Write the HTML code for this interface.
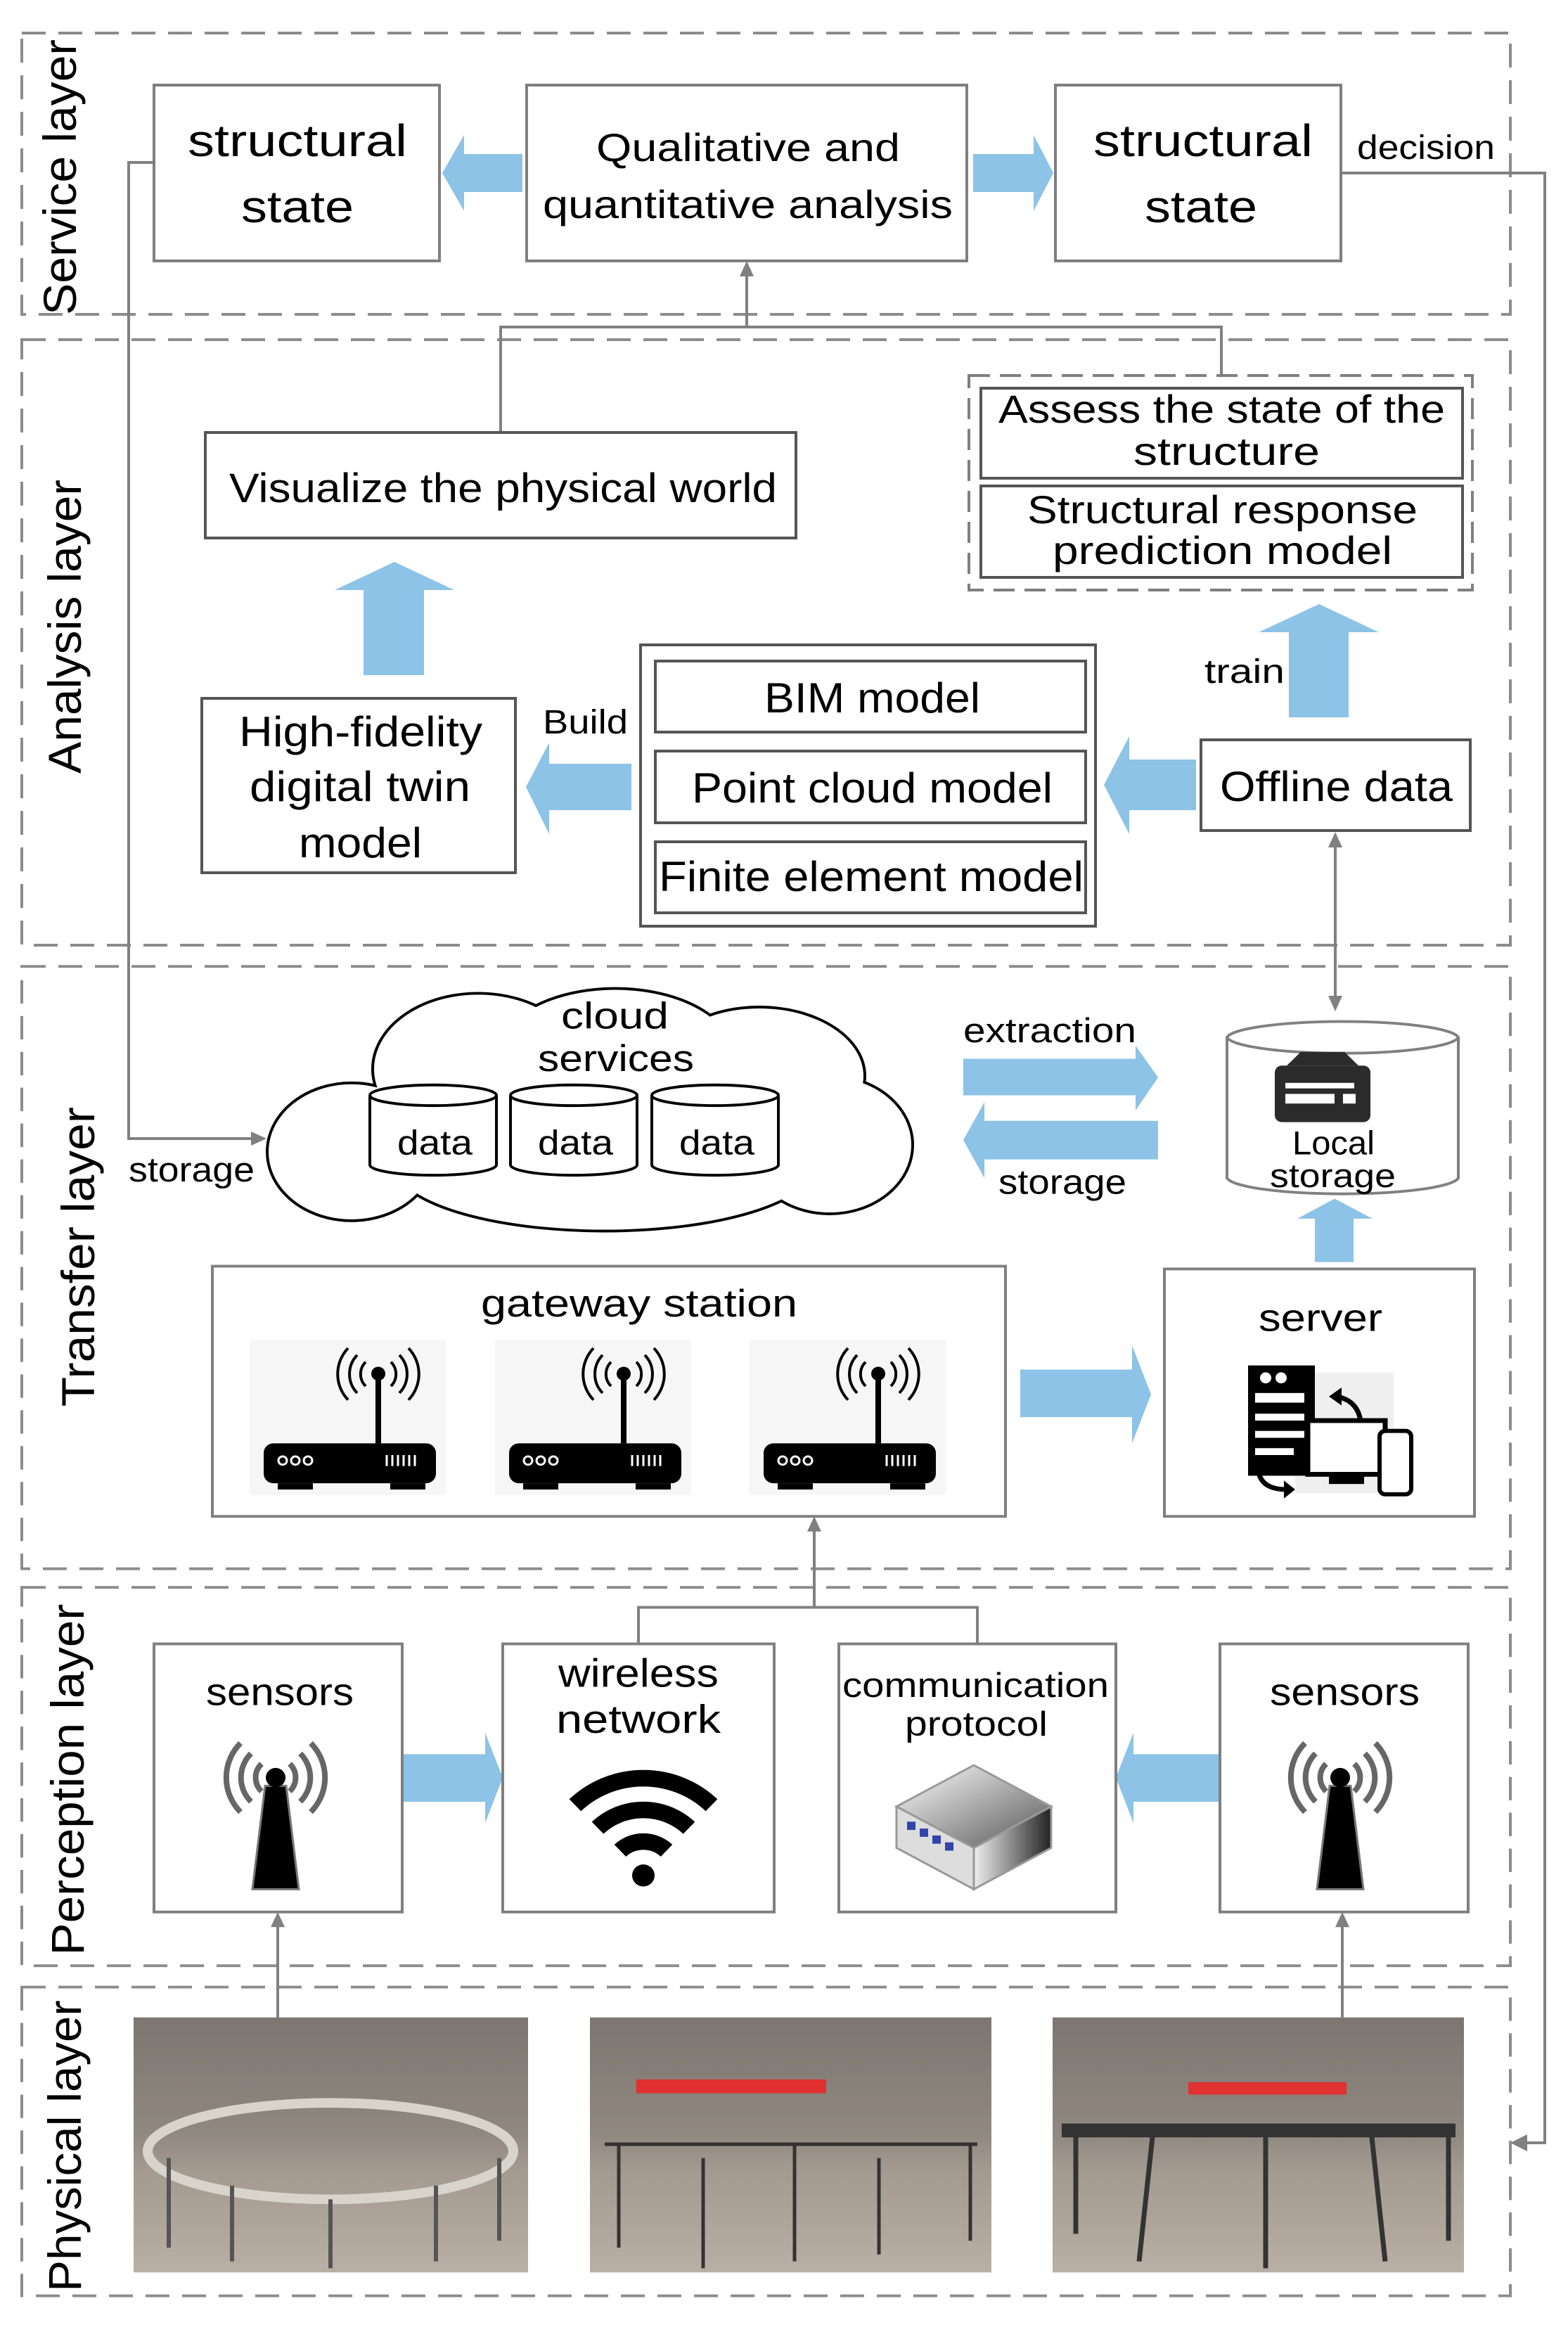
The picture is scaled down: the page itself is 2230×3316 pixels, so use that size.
<!DOCTYPE html>
<html><head><meta charset="utf-8"><style>
html,body{margin:0;padding:0;background:#fff;}
svg{display:block;}
text{font-family:"Liberation Sans",sans-serif;fill:#000;}
</style></head><body>
<svg width="2230" height="3316" viewBox="0 0 2230 3316" xmlns="http://www.w3.org/2000/svg">
<defs>
<linearGradient id="ph1" x1="0" y1="0" x2="0" y2="1"><stop offset="0" stop-color="#7d7670"/><stop offset="0.45" stop-color="#8f8880"/><stop offset="0.6" stop-color="#a39a90"/><stop offset="1" stop-color="#b9afa4"/></linearGradient>
<linearGradient id="box1" x1="0" y1="0" x2="1" y2="1"><stop offset="0" stop-color="#fff"/><stop offset="1" stop-color="#555"/></linearGradient>
<linearGradient id="box2" x1="0" y1="0" x2="1" y2="0"><stop offset="0" stop-color="#eee"/><stop offset="1" stop-color="#222"/></linearGradient>
</defs>

<!-- upper layer dashed boxes -->
<g fill="none" stroke="#8c8c8c" stroke-width="4" stroke-dasharray="34 18">
<rect x="31" y="47" width="2117" height="400"/>
<rect x="31" y="483" width="2117" height="861"/>
</g>

<g font-size="66">
<text transform="translate(108,448) rotate(-90)" textLength="392" lengthAdjust="spacingAndGlyphs">Service layer</text>
<text transform="translate(115,1100) rotate(-90)" textLength="418" lengthAdjust="spacingAndGlyphs">Analysis layer</text>
</g>

<!-- connectors spanning -->
<g fill="none" stroke="#808080" stroke-width="4">
<polyline points="219,231 183,231 183,1619 365,1619"/>
<polyline points="1907,246 2197,246 2197,3047 2165,3047"/>
<polyline points="712,615 712,465 1737,465 1737,534"/>
<line x1="1062" y1="465" x2="1062" y2="390"/>
<line x1="1899" y1="1200" x2="1899" y2="1420"/>
</g>
<g fill="#808080">
<polygon points="1062,371 1052,393 1072,393"/>
<polygon points="1899,1183 1889,1205 1909,1205"/>
<polygon points="1899,1438 1889,1416 1909,1416"/>
<polygon points="379,1619 357,1609 357,1629"/>
<polygon points="2148,3047 2172,3035 2172,3059"/>
</g>

<g fill="#8dc3e6">
<polygon points="629,246 660,192 660,219 743,219 743,273 660,273 660,300"/>
<polygon points="1498,246 1470,192 1470,219 1384,219 1384,273 1470,273 1470,300"/>
<polygon points="561,799 646,839 603,839 603,960 517,960 517,839 476,839"/>
<polygon points="748,1119 781,1056 781,1086 898,1086 898,1152 781,1152 781,1186"/>
<polygon points="1570,1116 1606,1047 1606,1080 1701,1080 1701,1152 1606,1152 1606,1186"/>
<polygon points="1876,859 1961,899 1918,899 1918,1020 1833,1020 1833,899 1790,899"/>
</g>

<g fill="none" stroke="#7f7f7f" stroke-width="4">
<rect x="219" y="121" width="406" height="250"/>
<rect x="749" y="121" width="626" height="250"/>
<rect x="1501" y="121" width="406" height="250"/>
<rect x="292" y="615" width="840" height="150" stroke="#555"/>
<rect x="1378" y="534" width="716" height="305" stroke-dasharray="30 14"/>
<rect x="1395" y="552" width="685" height="128" stroke="#555"/>
<rect x="1395" y="691" width="685" height="130" stroke="#555"/>
<rect x="287" y="993" width="446" height="248" stroke="#555"/>
<rect x="911" y="917" width="647" height="400" stroke="#555"/>
<rect x="932" y="940" width="612" height="101" stroke="#555"/>
<rect x="932" y="1068" width="612" height="102" stroke="#555"/>
<rect x="932" y="1197" width="612" height="101" stroke="#555"/>
<rect x="1708" y="1052" width="383" height="129" stroke="#555"/>
</g>

<g font-size="64">
<text x="267" y="222" textLength="312" lengthAdjust="spacingAndGlyphs">structural</text>
<text x="343" y="316" textLength="160" lengthAdjust="spacingAndGlyphs">state</text>
<text x="1555" y="222" textLength="312" lengthAdjust="spacingAndGlyphs">structural</text>
<text x="1628" y="316" textLength="160" lengthAdjust="spacingAndGlyphs">state</text>
</g>
<g font-size="56">
<text x="848" y="229" textLength="432" lengthAdjust="spacingAndGlyphs">Qualitative and</text>
<text x="772" y="310" textLength="583" lengthAdjust="spacingAndGlyphs">quantitative analysis</text>
<text x="326" y="714" font-size="58" textLength="779" lengthAdjust="spacingAndGlyphs">Visualize the physical world</text>
<text x="1420" y="601" textLength="635" lengthAdjust="spacingAndGlyphs">Assess the state of the</text>
<text x="1612" y="661" textLength="265" lengthAdjust="spacingAndGlyphs">structure</text>
<text x="1461" y="744" textLength="555" lengthAdjust="spacingAndGlyphs">Structural response</text>
<text x="1497" y="802" textLength="483" lengthAdjust="spacingAndGlyphs">prediction model</text>
</g>
<g font-size="60">
<text x="340" y="1061" textLength="346" lengthAdjust="spacingAndGlyphs">High-fidelity</text>
<text x="355" y="1139" textLength="314" lengthAdjust="spacingAndGlyphs">digital twin</text>
<text x="425" y="1219" textLength="175" lengthAdjust="spacingAndGlyphs">model</text>
<text x="1087" y="1013" textLength="307" lengthAdjust="spacingAndGlyphs">BIM model</text>
<text x="984" y="1141" textLength="513" lengthAdjust="spacingAndGlyphs">Point cloud model</text>
<text x="937" y="1267" textLength="604" lengthAdjust="spacingAndGlyphs">Finite element model</text>
<text x="1735" y="1139" textLength="331" lengthAdjust="spacingAndGlyphs">Offline data</text>
</g>
<g font-size="48">
<text x="1930" y="226" textLength="196" lengthAdjust="spacingAndGlyphs">decision</text>
<text x="772" y="1043" textLength="121" lengthAdjust="spacingAndGlyphs">Build</text>
<text x="1713" y="971" textLength="114" lengthAdjust="spacingAndGlyphs">train</text>
</g>

<!-- LOWER SECTION (rescaled) -->
<g transform="matrix(1 0 0 0.98 0 30.6)">
<g fill="none" stroke="#8c8c8c" stroke-width="4" stroke-dasharray="34 18">
<rect x="31" y="1371" width="2117" height="874"/>
<rect x="31" y="2272" width="2117" height="549"/>
<rect x="31" y="2852" width="2117" height="448"/>
</g>
<g font-size="66">
<text transform="translate(134,2010) rotate(-90)" textLength="435" lengthAdjust="spacingAndGlyphs">Transfer layer</text>
<text transform="translate(119,2806) rotate(-90)" textLength="510" lengthAdjust="spacingAndGlyphs">Perception layer</text>
<text transform="translate(115,3294) rotate(-90)" textLength="423" lengthAdjust="spacingAndGlyphs">Physical layer</text>
</g>

<g fill="none" stroke="#808080" stroke-width="4">
<polyline points="908,2354 908,2301 1390,2301 1390,2354"/>
<line x1="1158" y1="2301" x2="1158" y2="2188"/>
<line x1="395" y1="2896" x2="395" y2="2762"/>
<line x1="1909" y1="2896" x2="1909" y2="2762"/>
</g>
<g fill="#808080">
<polygon points="1158,2169 1148,2191 1168,2191"/>
<polygon points="395,2743 385,2765 405,2765"/>
<polygon points="1909,2743 1899,2765 1919,2765"/>
</g>

<g fill="#8dc3e6">
<polygon points="1647,1532 1615,1486 1615,1505 1370,1505 1370,1558 1615,1558 1615,1580"/>
<polygon points="1370,1623 1400,1568 1400,1595 1647,1595 1647,1651 1400,1651 1400,1678"/>
<polygon points="1898,1708 1952,1737 1925,1737 1925,1800 1870,1800 1870,1737 1845,1737"/>
<polygon points="1637,1992 1610,1921 1610,1956 1451,1956 1451,2025 1610,2025 1610,2063"/>
<polygon points="715,2548 690,2483 690,2514 572,2514 572,2583 690,2583 690,2614"/>
<polygon points="1587,2548 1612,2483 1612,2514 1735,2514 1735,2583 1612,2583 1612,2614"/>
</g>

<g fill="none" stroke="#7f7f7f" stroke-width="4">
<rect x="302" y="1806" width="1128" height="363"/>
<rect x="1656" y="1810" width="441" height="359"/>
<rect x="219" y="2354" width="353" height="389"/>
<rect x="715" y="2354" width="386" height="389"/>
<rect x="1193" y="2354" width="394" height="389"/>
<rect x="1735" y="2354" width="353" height="389"/>
</g>

<!-- cloud -->
<g stroke="#000" stroke-width="8" fill="#000">
<ellipse cx="500" cy="1640" rx="118" ry="98"/>
<ellipse cx="680" cy="1520" rx="148" ry="108"/>
<ellipse cx="875" cy="1502" rx="168" ry="97"/>
<ellipse cx="1080" cy="1530" rx="148" ry="98"/>
<ellipse cx="1180" cy="1630" rx="116" ry="98"/>
<ellipse cx="860" cy="1658" rx="298" ry="95"/>
</g>
<g fill="#fff">
<ellipse cx="500" cy="1640" rx="118" ry="98"/>
<ellipse cx="680" cy="1520" rx="148" ry="108"/>
<ellipse cx="875" cy="1502" rx="168" ry="97"/>
<ellipse cx="1080" cy="1530" rx="148" ry="98"/>
<ellipse cx="1180" cy="1630" rx="116" ry="98"/>
<ellipse cx="860" cy="1658" rx="298" ry="95"/>
</g>
<g fill="#fff" stroke="#000" stroke-width="4">
<path d="M526,1558 L526,1659 A90,15 0 0 0 706,1659 L706,1558 A90,15 0 0 0 526,1558 A90,15 0 0 0 706,1558"/>
<path d="M726,1558 L726,1659 A90,15 0 0 0 906,1659 L906,1558 A90,15 0 0 0 726,1558 A90,15 0 0 0 906,1558"/>
<path d="M927,1558 L927,1659 A90,15 0 0 0 1107,1659 L1107,1558 A90,15 0 0 0 927,1558 A90,15 0 0 0 1107,1558"/>
</g>
<g font-size="54">
<text x="798" y="1461" textLength="153" lengthAdjust="spacingAndGlyphs">cloud</text>
<text x="765" y="1523" textLength="222" lengthAdjust="spacingAndGlyphs">services</text>
</g>
<g font-size="50">
<text x="565" y="1644" textLength="107" lengthAdjust="spacingAndGlyphs">data</text>
<text x="765" y="1644" textLength="107" lengthAdjust="spacingAndGlyphs">data</text>
<text x="966" y="1644" textLength="107" lengthAdjust="spacingAndGlyphs">data</text>
<text x="183" y="1683" textLength="179" lengthAdjust="spacingAndGlyphs">storage</text>
<text x="1370" y="1481" textLength="246" lengthAdjust="spacingAndGlyphs">extraction</text>
<text x="1420" y="1701" textLength="182" lengthAdjust="spacingAndGlyphs">storage</text>
</g>

<path d="M1745,1474 L1745,1678 A165,25 0 0 0 2074,1678 L2074,1474 A165,25 0 0 0 1745,1474 A165,25 0 0 0 2074,1474" fill="#fff" stroke="#808080" stroke-width="4"/>
<rect x="1813" y="1515" width="136" height="82" rx="10" fill="#2b2b2b"/>
<polygon points="1830,1515 1932,1515 1912,1495 1850,1495" fill="#2b2b2b"/>
<rect x="1828" y="1540" width="98" height="8" fill="#fff"/>
<rect x="1828" y="1556" width="70" height="14" fill="#fff"/>
<rect x="1910" y="1556" width="18" height="14" fill="#fff"/>
<g font-size="48">
<text x="1838" y="1644" textLength="117" lengthAdjust="spacingAndGlyphs">Local</text>
<text x="1806" y="1691" textLength="179" lengthAdjust="spacingAndGlyphs">storage</text>
</g>

<g font-size="56">
<text x="684" y="1879" textLength="450" lengthAdjust="spacingAndGlyphs">gateway station</text>
<text x="1790" y="1900" textLength="176" lengthAdjust="spacingAndGlyphs">server</text>
</g>

<g id="r1">
<rect x="355" y="1913" width="279" height="225" fill="#f6f6f6"/>
<rect x="375" y="2063" width="245" height="58" rx="14" fill="#000"/>
<rect x="395" y="2121" width="50" height="9" fill="#000"/><rect x="555" y="2121" width="50" height="9" fill="#000"/>
<g fill="none" stroke="#fff" stroke-width="3"><circle cx="402" cy="2088" r="6"/><circle cx="420" cy="2088" r="6"/><circle cx="438" cy="2088" r="6"/></g>
<g stroke="#fff" stroke-width="3"><line x1="550" y1="2080" x2="550" y2="2096"/><line x1="558" y1="2080" x2="558" y2="2096"/><line x1="566" y1="2080" x2="566" y2="2096"/><line x1="574" y1="2080" x2="574" y2="2096"/><line x1="582" y1="2080" x2="582" y2="2096"/><line x1="590" y1="2080" x2="590" y2="2096"/></g>
<line x1="538" y1="1970" x2="538" y2="2063" stroke="#000" stroke-width="8"/>
<circle cx="538" cy="1962" r="10" fill="#000"/>
<g fill="none" stroke="#000" stroke-width="4">
<path d="M520,1945 A25,25 0 0 0 520,1980"/><path d="M556,1945 A25,25 0 0 1 556,1980"/>
<path d="M508,1935 A40,40 0 0 0 508,1990"/><path d="M568,1935 A40,40 0 0 1 568,1990"/>
<path d="M495,1925 A55,55 0 0 0 495,2000"/><path d="M581,1925 A55,55 0 0 1 581,2000"/>
</g>
</g>
<use href="#r1" x="349" y="0"/>
<use href="#r1" x="711" y="0"/>

<rect x="1842" y="1960" width="140" height="175" fill="#efefef"/>
<rect x="1775" y="1950" width="95" height="160" fill="#000"/>
<circle cx="1800" cy="1968" r="8" fill="#fff"/><circle cx="1822" cy="1968" r="8" fill="#fff"/>
<rect x="1785" y="1990" width="70" height="14" fill="#fff"/>
<rect x="1785" y="2020" width="70" height="10" fill="#fff"/>
<rect x="1785" y="2045" width="70" height="10" fill="#fff"/>
<rect x="1785" y="2070" width="55" height="10" fill="#fff"/>
<rect x="1860" y="2030" width="110" height="78" fill="#fff" stroke="#000" stroke-width="7"/>
<rect x="1890" y="2108" width="50" height="14" fill="#000"/>
<rect x="1962" y="2045" width="45" height="92" rx="8" fill="#fff" stroke="#000" stroke-width="6"/>
<path d="M1935,2030 Q1930,2000 1900,1995" fill="none" stroke="#000" stroke-width="7"/>
<polygon points="1890,1995 1908,1982 1908,2008"/>
<path d="M1790,2105 Q1795,2130 1830,2130" fill="none" stroke="#000" stroke-width="7"/>
<polygon points="1842,2130 1826,2117 1826,2143"/>

<g font-size="56">
<text x="293" y="2443" textLength="210" lengthAdjust="spacingAndGlyphs">sensors</text>
<text x="1806" y="2443" textLength="213" lengthAdjust="spacingAndGlyphs">sensors</text>
<text x="794" y="2416" font-size="58" textLength="228" lengthAdjust="spacingAndGlyphs">wireless</text>
<text x="791" y="2483" font-size="58" textLength="234" lengthAdjust="spacingAndGlyphs">network</text>
<text x="1198" y="2431" font-size="50" textLength="379" lengthAdjust="spacingAndGlyphs">communication</text>
<text x="1287" y="2487" font-size="50" textLength="203" lengthAdjust="spacingAndGlyphs">protocol</text>
</g>
<g id="ant">
<polygon points="377,2560 407,2560 425,2710 359,2710" fill="#000" stroke="#777" stroke-width="3"/>
<circle cx="392" cy="2548" r="14" fill="#000"/>
<g fill="none" stroke="#666" stroke-width="8">
<path d="M372,2528 A28,28 0 0 0 372,2568"/><path d="M412,2528 A28,28 0 0 1 412,2568"/>
<path d="M357,2513 A50,50 0 0 0 357,2583"/><path d="M427,2513 A50,50 0 0 1 427,2583"/>
<path d="M342,2498 A72,72 0 0 0 342,2598"/><path d="M442,2498 A72,72 0 0 1 442,2598"/>
</g>
</g>
<use href="#ant" x="1514" y="0"/>
<g fill="none" stroke="#000" stroke-width="24">
<path d="M818,2588 A140,140 0 0 1 1012,2588"/>
<path d="M850,2621 A94,94 0 0 1 980,2621"/>
<path d="M882,2654 A48,48 0 0 1 948,2654"/>
</g>
<circle cx="915" cy="2690" r="16" fill="#000"/>
<polygon points="1275,2590 1385,2530 1495,2590 1385,2650" fill="url(#box1)" stroke="#999" stroke-width="3"/>
<polygon points="1275,2590 1385,2650 1385,2710 1275,2650" fill="#ddd" stroke="#999" stroke-width="3"/>
<polygon points="1385,2650 1495,2590 1495,2650 1385,2710" fill="url(#box2)" stroke="#999" stroke-width="3"/>
<g fill="#3344aa"><rect x="1290" y="2612" width="12" height="12"/><rect x="1308" y="2622" width="12" height="12"/><rect x="1326" y="2632" width="12" height="12"/><rect x="1344" y="2642" width="12" height="12"/></g>

<g>
<rect x="190" y="2896" width="561" height="370" fill="url(#ph1)"/>
<rect x="839" y="2896" width="571" height="370" fill="url(#ph1)"/>
<rect x="1497" y="2896" width="585" height="370" fill="url(#ph1)"/>
<ellipse cx="470" cy="3090" rx="260" ry="70" fill="none" stroke="#d8d4cc" stroke-width="14"/>
<g stroke="#555" stroke-width="6"><line x1="240" y1="3100" x2="240" y2="3230"/><line x1="330" y1="3140" x2="330" y2="3250"/><line x1="470" y1="3160" x2="470" y2="3260"/><line x1="620" y1="3140" x2="620" y2="3250"/><line x1="710" y1="3100" x2="710" y2="3220"/></g>
<rect x="905" y="2986" width="270" height="20" fill="#e03030"/>
<g stroke="#333" stroke-width="5" fill="none"><polyline points="860,3080 1390,3080"/><line x1="880" y1="3080" x2="880" y2="3230"/><line x1="1000" y1="3100" x2="1000" y2="3260"/><line x1="1130" y1="3080" x2="1130" y2="3250"/><line x1="1250" y1="3100" x2="1250" y2="3240"/><line x1="1380" y1="3080" x2="1380" y2="3220"/></g>
<rect x="1690" y="2990" width="225" height="18" fill="#e03030"/>
<rect x="1510" y="3050" width="560" height="20" fill="#333"/>
<g stroke="#333" stroke-width="7"><line x1="1530" y1="3060" x2="1530" y2="3210"/><line x1="1640" y1="3060" x2="1620" y2="3250"/><line x1="1800" y1="3060" x2="1800" y2="3260"/><line x1="1950" y1="3060" x2="1970" y2="3250"/><line x1="2060" y1="3060" x2="2060" y2="3220"/></g>
</g>
</g>
</svg>
</body></html>
